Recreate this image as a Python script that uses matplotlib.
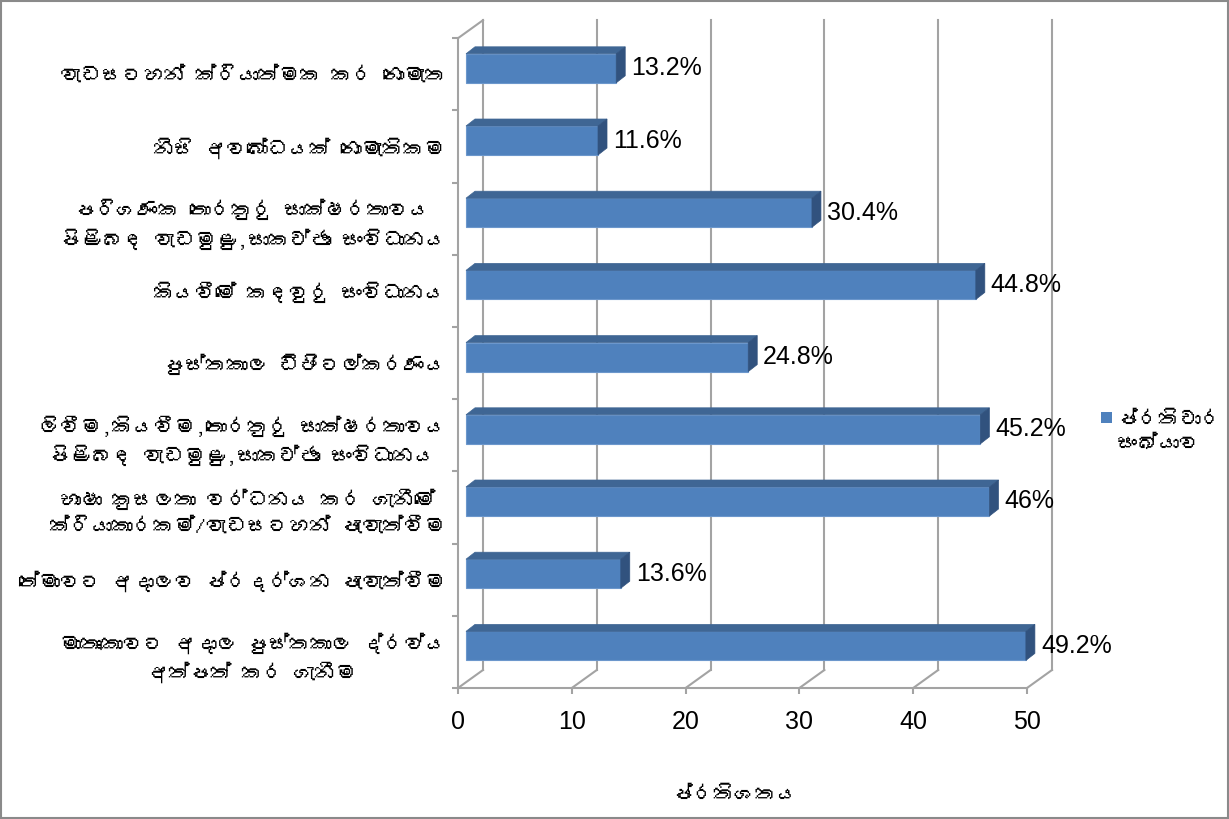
import numpy as np
import matplotlib
matplotlib.use('Agg')
import matplotlib.pyplot as plt
from matplotlib.patches import Polygon, Rectangle
from matplotlib import font_manager
from matplotlib.ft2font import FT2Font

# ---------------- data ----------------
categories = [
    "මාතෘකාවට අදාල පුස්තකාල ද්රව්ය\nඅත්පත් කර ගැනීම",
    "තේමාවට අදාලව ප්රදර්ශන පැවැත්වීම",
    "භාෂා කුසලතා වර්ධනය කර ගැනීමේ\nක්රියාකාරකම්/වැඩසටහන් පැවැත්වීම",
    "ලිවීම,කියවීම,තොරතුරු සාක්ෂරතාවය\nපිළිබඳ වැඩමුළු,සාකච්ඡා සංවිධානය",
    "පුස්තකාල ඩිජිටල්කරණය",
    "කියවීමේ කඳවුරු සංවිධානය",
    "පරිගණක තොරතුරු සාක්ෂරතාවය\nපිළිබඳ වැඩමුළු,සාකච්ඡා සංවිධානය",
    "නිසි අවබෝධයක් නොමැතිකම",
    "වැඩසටහන් ක්රියාත්මක කර නොමැත",
]
values = [49.2, 13.6, 46, 45.2, 24.8, 44.8, 30.4, 11.6, 13.2]
xticks = [0, 10, 20, 30, 40, 50]
legend_label = "ප්රතිචාර\nසංඛ්යාව"
xlabel = "ප්රතිශතය"


def find_sinhala_font():
    seen = set()
    for f in font_manager.fontManager.ttflist:
        if f.fname in seen:
            continue
        seen.add(f.fname)
        try:
            cm = FT2Font(f.fname).get_charmap()
        except Exception:
            continue
        if 0x0DC3 in cm and 0x0D9A in cm:
            return f.name
    return None


sin = find_sinhala_font()
sin_family = [sin, 'DejaVu Sans'] if sin else ['DejaVu Sans']
num_family = ['Liberation Sans', 'DejaVu Sans']

W, H = 1229, 819
fig = plt.figure(figsize=(W / 100, H / 100), dpi=100)
fig.patch.set_facecolor('white')

ax = fig.add_axes([458 / W, (H - 688) / H, 569 / W, 668 / H])
XPU = 569 / 50.0
YPU = 72.2
ax.set_xlim(0, 50)
ax.set_ylim(-0.5, -0.5 + 668 / YPU)
for s in ax.spines.values():
    s.set_visible(False)
ax.patch.set_alpha(0)

gc = '#A3A3A3'
glw = 1.5
BX, BY = 25 / XPU, 18 / YPU
ytop = 8.5 + BY

# back wall gridlines + floor diagonals
for t in xticks:
    ax.plot([t + BX, t + BX], [-0.5 + BY, ytop], color=gc, lw=glw, clip_on=False, zorder=1)
    ax.plot([t, t + BX], [-0.5, -0.5 + BY], color=gc, lw=glw, clip_on=False, zorder=1)
# front floor line and left wall
ax.plot([0, 50], [-0.5, -0.5], color=gc, lw=glw, clip_on=False, zorder=1)
ax.plot([0, 0], [-0.5, 8.5], color=gc, lw=glw, clip_on=False, zorder=1)
ax.plot([0, BX], [8.5, ytop], color=gc, lw=glw, clip_on=False, zorder=1)

# ticks
ax.set_xticks(xticks)
ax.set_xticklabels([str(t) for t in xticks], fontsize=18, family=num_family)
ax.tick_params(axis='x', length=4.5, width=glw, color=gc, pad=11)
ax.set_yticks(np.arange(-0.5, 9.0, 1.0))
ax.set_yticklabels([])
ax.tick_params(axis='y', which='major', length=4.5, width=glw, color=gc)
ax.set_yticks(range(len(categories)), minor=True)
ax.set_yticklabels(categories, minor=True)
ax.tick_params(axis='y', which='minor', length=0, pad=9)
for lab in ax.get_yticklabels(minor=True):
    lab.set_fontfamily(sin_family)
    lab.set_fontsize(15)
    lab.set_multialignment('center')
    lab.set_linespacing(1.45)

# bars
FX, FY = 8 / XPU, 6 / YPU
DX, DY = 9 / XPU, 7 / YPU
hh = 14.5 / YPU
front_c = '#4F81BD'
top_c = '#3F6694'
side_c = '#31527E'
ypos = np.arange(len(values))
ax.barh(ypos + FY, values, left=FX, height=2 * hh, color=front_c,
        edgecolor='#6C97CC', linewidth=0.8, zorder=3, clip_on=False)
for i, v in enumerate(values):
    y0, y1 = i + FY - hh, i + FY + hh
    x0, x1 = FX, FX + v
    ax.add_patch(Polygon([(x0, y1), (x1, y1), (x1 + DX, y1 + DY), (x0 + DX, y1 + DY)],
                         closed=True, facecolor=top_c, edgecolor=top_c, lw=0.5,
                         zorder=3, clip_on=False))
    ax.add_patch(Polygon([(x1, y0), (x1 + DX, y0 + DY), (x1 + DX, y1 + DY), (x1, y1)],
                         closed=True, facecolor=side_c, edgecolor=side_c, lw=0.5,
                         zorder=3, clip_on=False))
    ax.text(x1 + DX + 6 / XPU, i + FY, f"{v:g}%", ha='left', va='center',
            fontsize=18, family=num_family, zorder=4, clip_on=False)

# legend (manual)
fig.add_artist(Rectangle((1101 / W, (H - 423) / H), 11 / W, 11 / H,
                         transform=fig.transFigure, facecolor=front_c, edgecolor='none'))
fig.text(1117 / W, (H - 432) / H, legend_label, ha='left', va='center',
         fontsize=15, family=sin_family, linespacing=1.45)

# x label
fig.text(735 / W, (H - 795) / H, xlabel, ha='center', va='center',
         fontsize=15, family=sin_family)

# outer border
fig.add_artist(Rectangle((0.001, 0.001), 0.998, 0.998, transform=fig.transFigure,
                         fill=False, edgecolor='#8A8A8A', lw=1.5))

fig.savefig('out.png', dpi=100)
